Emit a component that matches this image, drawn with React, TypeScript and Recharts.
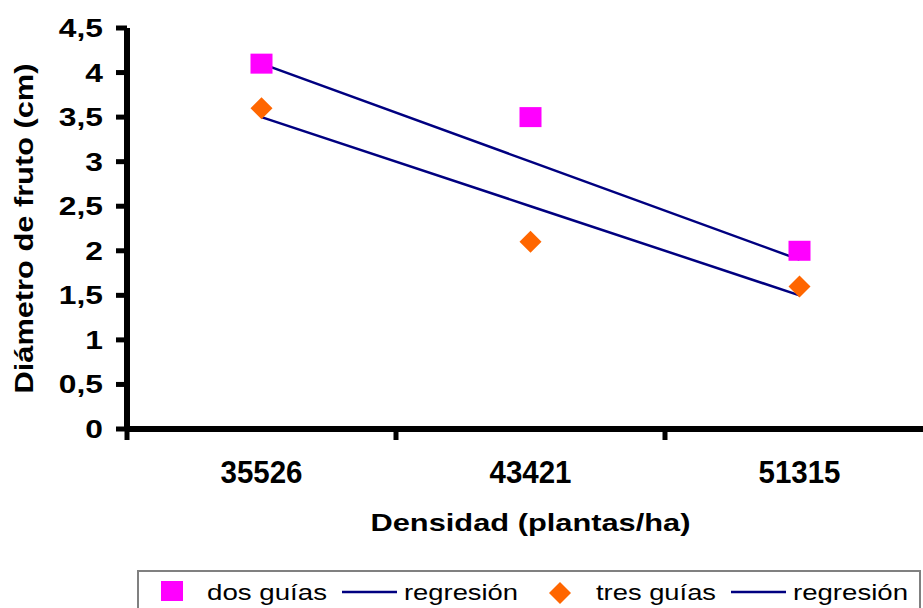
import { ComposedChart, Line, XAxis, YAxis, Legend, Label } from "recharts";

const FONT = "'Liberation Sans', Arial, sans-serif";
const NAVY = "#000080";
const MAGENTA = "#FF00FF";
const ORANGE = "#FF6600";
const X_TICK_MARGIN = 54;

const densidades = ["35526", "43421", "51315"];
const dosGuias = [4.1, 3.5, 2.0];
const dosGuiasReg = [4.1, 3.0, 1.9];
const tresGuias = [3.6, 2.1, 1.6];
const tresGuiasReg = [3.5, 2.5, 1.5];
const yTicks = [0, 0.5, 1, 1.5, 2, 2.5, 3, 3.5, 4, 4.5];

const data = densidades.map((densidad, i) => ({
  densidad,
  dos: dosGuias[i],
  dosReg: dosGuiasReg[i],
  tres: tresGuias[i],
  tresReg: tresGuiasReg[i],
}));

const legendOrder = ["dos", "dosReg", "tres", "tresReg"];
// icon / label placement inside the legend box
const legendSlots = [
  { icon: 35, label: 70, width: 120 },
  { icon: 205, label: 267, width: 114 },
  { icon: 423, label: 459, width: 120 },
  { icon: 594, label: 656, width: 115 },
];

// heavy black axes
const axisCss = `
.heavy-axes .recharts-cartesian-axis-line { stroke: #000; stroke-width: 6px; }
.heavy-axes .recharts-cartesian-axis-tick-line { stroke: #000; stroke-width: 5px; }
`;

const fmt = (v: number) => String(v).replace(".", ",");

function SquareDot(props: any) {
  const { cx, cy, index } = props;
  if (cx == null || cy == null) return null;
  return <rect key={`sq-${index}`} x={cx - 11} y={cy - 10} width={22} height={20} fill={MAGENTA} />;
}

function DiamondDot(props: any) {
  const { cx, cy, index } = props;
  if (cx == null || cy == null) return null;
  return (
    <path
      key={`dm-${index}`}
      d={`M${cx},${cy - 11} L${cx + 11},${cy} L${cx},${cy + 11} L${cx - 11},${cy} Z`}
      fill={ORANGE}
    />
  );
}

function YTick({ x, y, payload }: any) {
  return (
    <g transform={`translate(${x},${y})`}>
      <text transform="scale(1.27,1)" textAnchor="end" dy={9} fontSize={25} fontWeight="bold" fontFamily={FONT} fill="#000">
        {fmt(payload.value)}
      </text>
    </g>
  );
}

// category label plus a tick mark on the left boundary of its band
function XTick({ x, y, payload }: any) {
  const axisY = y - X_TICK_MARGIN;
  const edge = x - (payload.offset ?? 0);
  return (
    <g>
      <line x1={edge} x2={edge} y1={axisY} y2={axisY + 11} stroke="#000" strokeWidth={5} />
      <text
        x={x}
        y={y}
        textAnchor="middle"
        fontSize={31}
        fontWeight="bold"
        fontFamily={FONT}
        fill="#000"
        textLength={82}
        lengthAdjust="spacingAndGlyphs"
      >
        {payload.value}
      </text>
    </g>
  );
}

function LegendBox({ payload }: any) {
  const items = [...(payload || [])].sort(
    (a: any, b: any) => legendOrder.indexOf(a.dataKey) - legendOrder.indexOf(b.dataKey)
  );
  return (
    <svg width={784} height={40} style={{ display: "block" }}>
      <rect x={1} y={1} width={782} height={60} fill="#fff" stroke="#808080" strokeWidth={2} />
      {items.map((item: any, i: number) => {
        const slot = legendSlots[i];
        let icon = null;
        if (item.dataKey === "dos") {
          icon = <rect x={slot.icon - 11} y={11} width={22} height={20} fill={MAGENTA} />;
        } else if (item.dataKey === "tres") {
          const cx = slot.icon;
          icon = <path d={`M${cx},${12} L${cx + 11},${23} L${cx},${34} L${cx - 11},${23} Z`} fill={ORANGE} />;
        } else {
          icon = <line x1={slot.icon} x2={slot.icon + 55} y1={22} y2={22} stroke={NAVY} strokeWidth={2.5} />;
        }
        return (
          <g key={item.dataKey}>
            {icon}
            <text
              x={slot.label}
              y={30}
              fontSize={22}
              fontFamily={FONT}
              fill="#000"
              textLength={slot.width}
              lengthAdjust="spacingAndGlyphs"
            >
              {item.value}
            </text>
          </g>
        );
      })}
    </svg>
  );
}

export default function App() {
  return (
    <div
      className="heavy-axes"
      style={{ position: "fixed", left: 0, top: 0, width: 923, height: 608, overflow: "hidden", background: "#fff" }}
    >
      <style>{axisCss}</style>
      <ComposedChart width={960} height={640} data={data} margin={{ top: 28, right: 26, left: 0, bottom: 91 }}>
        <XAxis
          xAxisId="cat"
          dataKey="densidad"
          type="category"
          scale="band"
          stroke="#000"
          tickLine={false}
          tickSize={0}
          tickMargin={X_TICK_MARGIN}
          height={120}
          tick={<XTick />}
        >
          <Label
            content={({ viewBox }: any) => (
              <text
                x={viewBox.x + viewBox.width / 2}
                y={viewBox.y + 102}
                textAnchor="middle"
                fontSize={24}
                fontWeight="bold"
                fontFamily={FONT}
                fill="#000"
                textLength={320}
                lengthAdjust="spacingAndGlyphs"
              >
                Densidad (plantas/ha)
              </text>
            )}
          />
        </XAxis>
        <YAxis
          domain={[0, 4.5]}
          ticks={yTicks}
          width={127}
          tickSize={11}
          tickMargin={13}
          stroke="#000"
          tick={<YTick />}
        >
          <Label
            content={({ viewBox }: any) => (
              <text
                transform={`translate(33,${viewBox.y + viewBox.height / 2}) rotate(-90)`}
                textAnchor="middle"
                fontSize={25}
                fontWeight="bold"
                fontFamily={FONT}
                fill="#000"
                textLength={330}
                lengthAdjust="spacingAndGlyphs"
              >
                Diámetro de fruto (cm)
              </text>
            )}
          />
        </YAxis>
        <Line
          xAxisId="cat"
          dataKey="dosReg"
          name="regresión"
          stroke={NAVY}
          strokeWidth={2.5}
          dot={false}
          activeDot={false}
          isAnimationActive={false}
        />
        <Line
          xAxisId="cat"
          dataKey="tresReg"
          name="regresión"
          stroke={NAVY}
          strokeWidth={2.5}
          dot={false}
          activeDot={false}
          isAnimationActive={false}
        />
        <Line
          xAxisId="cat"
          dataKey="dos"
          name="dos guías"
          stroke="none"
          dot={<SquareDot />}
          activeDot={false}
          isAnimationActive={false}
        />
        <Line
          xAxisId="cat"
          dataKey="tres"
          name="tres guías"
          stroke="none"
          dot={<DiamondDot />}
          activeDot={false}
          isAnimationActive={false}
        />
        <Legend
          layout="vertical"
          align="center"
          verticalAlign="middle"
          width={784}
          wrapperStyle={{ left: 137, top: 570, width: 784, height: 40 }}
          content={<LegendBox />}
        />
      </ComposedChart>
    </div>
  );
}
